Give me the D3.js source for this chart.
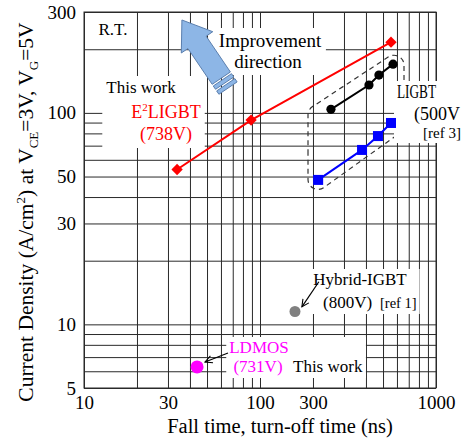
<!DOCTYPE html>
<html><head><meta charset="utf-8">
<script src="https://cdn.jsdelivr.net/npm/d3@7"></script>
<style>
body{margin:0;background:#fff;}
svg{display:block;}
svg text, svg tspan{font-family:"Liberation Serif","Times New Roman",serif !important;}
</style>
</head><body>
<svg id="c" width="465" height="439" font-family="Liberation Serif"></svg>
<script>
// ---- data ----
const e2ligbtX = [33.8, 89, 555];
const e2ligbtY = [54, 92.5, 216];
const ligbtBlackX = [253, 416, 474, 570];
const ligbtBlackY = [104, 135.5, 151, 170];
const ligbtBlueX = [214, 380, 468, 555];
const ligbtBlueY = [48.2, 66.8, 77.7, 89.6];
const hybridX = [158];
const hybridY = [11.5];
const ldmosX = [43.9];
const ldmosY = [6.29];

const xTickValues = [10, 30, 100, 200, 1000];
const xTickLabels = ["10", "30", "100", "300", "1000"];
const yTickValues = [5, 10, 30, 50, 100, 300];
const yTickLabels = ["5", "10", "30", "50", "100", "300"];
const xGridValues = [10,20,30,40,50,60,70,80,90,100,200,300,400,500,600,700,800,900,1000];
const yGridValues = [5,6,7,8,9,10,20,30,40,50,60,70,80,90,100,200,300];

// annotation anchors in data units
const enclosureX = [187.4, 658, 658, 187.4];
const enclosureY = [103.7, 205.5, 83.0, 39.2];
const improveArrowX = [65.8, 36.0];   // tail, tip
const improveArrowY = [131, 275];
const hybridArrowX = [216, 173];
const hybridArrowY = [15.9, 12.1];
const ldmosArrowX = [65.8, 48.7];
const ldmosArrowY = [7.32, 6.64];

const FONT = "'Liberation Serif','Times New Roman',serif";
const L = 84, R = 436, T = 12, B = 388;

const svg = d3.select("#c");
const x = d3.scaleLog().domain([10, 1000]).range([L, R]);
const y = d3.scaleLog().domain([5, 300]).range([B, T]);

const defs = svg.append("defs");
defs.append("marker").attr("id","ah").attr("viewBox","0 0 10 10")
  .attr("refX",9).attr("refY",5).attr("markerWidth",9).attr("markerHeight",9)
  .attr("markerUnits","userSpaceOnUse").attr("orient","auto")
  .append("path").attr("d","M1,1 L9,5 L1,9").attr("fill","none").attr("stroke","#000").attr("stroke-width",1.2);

// grid
const gGrid = svg.append("g");
gGrid.append("g").attr("transform",`translate(0,${B})`)
  .call(d3.axisBottom(x).tickValues(xGridValues).tickSize(-(B-T)).tickFormat(""))
  .call(g=>g.select(".domain").remove())
  .selectAll("line").attr("stroke","#2a2a2a").attr("stroke-width",1);
gGrid.append("g").attr("transform",`translate(${L},0)`)
  .call(d3.axisLeft(y).tickValues(yGridValues).tickSize(-(R-L)).tickFormat(""))
  .call(g=>g.select(".domain").remove())
  .selectAll("line").attr("stroke","#2a2a2a").attr("stroke-width",1);
svg.append("rect").attr("x",L).attr("y",T).attr("width",R-L).attr("height",B-T)
  .attr("fill","none").attr("stroke","#2a2a2a").attr("stroke-width",1);

// tick labels
svg.append("g").attr("transform",`translate(0,${B})`)
  .call(d3.axisBottom(x).tickValues(xTickValues).tickSize(0).tickPadding(8)
    .tickFormat((d,i)=>xTickLabels[i]))
  .call(g=>g.select(".domain").remove())
  .attr("font-family",FONT).attr("font-size",19)
  .selectAll("text").style("font-family",FONT).attr("fill","#000");
svg.append("g").attr("transform",`translate(${L},0)`)
  .call(d3.axisLeft(y).tickValues(yTickValues).tickSize(0).tickPadding(8)
    .tickFormat((d,i)=>yTickLabels[i]))
  .call(g=>g.select(".domain").remove())
  .attr("font-family",FONT).attr("font-size",19)
  .selectAll("text").style("font-family",FONT).attr("fill","#000");

// axis titles
svg.append("text").attr("x",280).attr("y",433).attr("text-anchor","middle")
  .style("font-family",FONT).attr("font-size",20.5).text("Fall time, turn-off time (ns)");
const yt = svg.append("text").attr("transform","translate(33,212) rotate(-90)")
  .attr("text-anchor","middle").attr("font-size",21.5).style("font-family",FONT);
yt.append("tspan").text("Current  Density (A/cm");
yt.append("tspan").attr("font-size",13).attr("dy",-8).text("2");
yt.append("tspan").attr("dy",8).text(") at V");
yt.append("tspan").attr("font-size",13).attr("dy",5).text("CE");
yt.append("tspan").attr("dy",-5).text("=3V, V");
yt.append("tspan").attr("font-size",13).attr("dy",5).text("G");
yt.append("tspan").attr("dy",-5).text("=5V");

// dashed enclosure (rounded parallelogram)
const encPts = enclosureX.map((d,i)=>[x(d), y(enclosureY[i])]);
{
  const p = d3.path(); const r = 10, n = encPts.length;
  const mid = (a,b)=>[(a[0]+b[0])/2,(a[1]+b[1])/2];
  const s = mid(encPts[n-1], encPts[0]);
  p.moveTo(s[0], s[1]);
  for (let i=0;i<n;i++){
    const c = encPts[i], nx = encPts[(i+1)%n];
    const m = mid(c, nx);
    p.arcTo(c[0], c[1], m[0], m[1], r);
  }
  p.closePath();
  svg.append("path").attr("d", p.toString()).attr("fill","none")
    .attr("stroke","#333").attr("stroke-width",1.2).attr("stroke-dasharray","5,4");
}

const gBoxes = svg.append("g");
const gData = svg.append("g");
const gText = svg.append("g");

// data lines & markers
const line = d3.line().x(d=>x(d[0])).y(d=>y(d[1]));
const e2 = e2ligbtX.map((d,i)=>[d, e2ligbtY[i]]);
const bk = ligbtBlackX.map((d,i)=>[d, ligbtBlackY[i]]);
const bl = ligbtBlueX.map((d,i)=>[d, ligbtBlueY[i]]);
gData.append("path").attr("d", line(e2)).attr("fill","none").attr("stroke","#ff0000").attr("stroke-width",2);
gData.append("path").attr("d", line(bk)).attr("fill","none").attr("stroke","#000").attr("stroke-width",2);
gData.append("path").attr("d", line(bl)).attr("fill","none").attr("stroke","#0000ff").attr("stroke-width",2);
gData.selectAll(".dm").data(e2).join("path")
  .attr("d", d3.symbol(d3.symbolSquare, 64)())
  .attr("transform", d=>`translate(${x(d[0])},${y(d[1])}) rotate(45)`).attr("fill","#ff0000");
gData.selectAll(".bc").data(bk).join("circle")
  .attr("cx", d=>x(d[0])).attr("cy", d=>y(d[1])).attr("r",4.6).attr("fill","#000");
gData.selectAll(".bs").data(bl).join("rect")
  .attr("x", d=>x(d[0])-5).attr("y", d=>y(d[1])-5).attr("width",10).attr("height",10).attr("fill","#0000ff");
gData.selectAll(".hy").data(hybridX.map((d,i)=>[d, hybridY[i]])).join("circle")
  .attr("cx", d=>x(d[0])).attr("cy", d=>y(d[1])).attr("r",5.5).attr("fill","#808080");
gData.selectAll(".ld").data(ldmosX.map((d,i)=>[d, ldmosY[i]])).join("circle")
  .attr("cx", d=>x(d[0])).attr("cy", d=>y(d[1])).attr("r",6.5).attr("fill","#ff00ff");

// pointer arrows
gData.append("line").attr("x1",x(hybridArrowX[0])).attr("y1",y(hybridArrowY[0]))
  .attr("x2",x(hybridArrowX[1])).attr("y2",y(hybridArrowY[1]))
  .attr("stroke","#000").attr("stroke-width",1.2).attr("marker-end","url(#ah)");
gData.append("line").attr("x1",x(ldmosArrowX[0])).attr("y1",y(ldmosArrowY[0]))
  .attr("x2",x(ldmosArrowX[1])).attr("y2",y(ldmosArrowY[1]))
  .attr("stroke","#000").attr("stroke-width",1.2).attr("marker-end","url(#ah)");

// text helper with white box
function label(lines, opts){
  const g = gText.append("g");
  lines.forEach(l=>{
    const t = g.append("text").attr("x",l.x).attr("y",l.y)
      .attr("text-anchor", l.anchor||"middle").attr("font-size", l.size||18)
      .style("font-family",FONT).attr("fill", l.color||"#000");
    if (l.parts) l.parts.forEach(p=>{
      const ts = t.append("tspan").text(p.t);
      if (p.size) ts.attr("font-size", p.size);
      if (p.dy) ts.attr("dy", p.dy);
    }); else t.text(l.text);
    if (l.len) t.attr("textLength", l.len).attr("lengthAdjust","spacingAndGlyphs");
  });
  if (opts && opts.box){
    const bb = g.node().getBBox(); const pd = opts.pad||3;
    gBoxes.append("rect").attr("x",bb.x-pd).attr("y",bb.y-pd+2)
      .attr("width",bb.width+2*pd).attr("height",bb.height+2*pd-3).attr("fill","#fff");
  }
  return g;
}

label([{x:113,y:35,text:"R.T.",size:17}]);
label([{x:141,y:93,text:"This work",size:17},
       {x:166,y:118,color:"#ff0000",parts:[{t:"E"},{t:"2",size:11,dy:-7},{t:"LIGBT",dy:7}]},
       {x:166,y:140,text:"(738V)",color:"#ff0000"}],{box:true,pad:4});
label([{x:270,y:47,text:"Improvement",size:19},{x:268,y:68,text:"direction",size:19}],{box:true,pad:4});
label([{x:397,y:98,text:"LIGBT",anchor:"start",size:18,len:39},
       {x:414,y:120,text:"(500V",anchor:"start",size:18},
       {x:423,y:138,text:"[ref 3]",anchor:"start",size:15}],{box:true,pad:3});
label([{x:360,y:285,text:"Hybrid-IGBT",size:17},
       {x:323,y:308,text:"(800V)",anchor:"start",size:17},
       {x:380,y:308,text:"[ref 1]",anchor:"start",size:14.5}],{box:true,pad:3});
label([{x:259,y:353,text:"LDMOS",size:17,color:"#ff00ff"},
       {x:258,y:372,text:"(731V)",size:17,color:"#ff00ff"},
       {x:293,y:372,text:"This work",anchor:"start",size:17}],{box:true,pad:3});

// improvement block arrow
{
  const tail = [x(improveArrowX[0]), y(improveArrowY[0])];
  const tip = [x(improveArrowX[1]), y(improveArrowY[1])];
  const dx = tip[0]-tail[0], dy = tip[1]-tail[1], len = Math.hypot(dx,dy);
  const u = [dx/len, dy/len], n = [-u[1], u[0]];
  const at = (s, w)=>[tail[0]+u[0]*s+n[0]*w, tail[1]+u[1]*s+n[1]*w];
  const headL = 27, headW = 19, shaftW = 11;
  const ga = svg.append("g");
  const body = [at(12,-shaftW), at(len-headL,-shaftW), at(len-headL,-headW), at(len,0),
                at(len-headL,headW), at(len-headL,shaftW), at(12,shaftW)];
  ga.append("polygon").attr("points", body.map(p=>p.join(",")).join(" "))
    .attr("fill","#8db6e6").attr("stroke","#5b7fae").attr("stroke-width",1);
  [[6,10],[0,4]].forEach(([a,b])=>{
    const q = [at(a,-shaftW), at(b,-shaftW), at(b,shaftW), at(a,shaftW)];
    ga.append("polygon").attr("points", q.map(p=>p.join(",")).join(" "))
      .attr("fill","#8db6e6").attr("stroke","#5b7fae").attr("stroke-width",1);
  });
}
</script>
</body></html>
